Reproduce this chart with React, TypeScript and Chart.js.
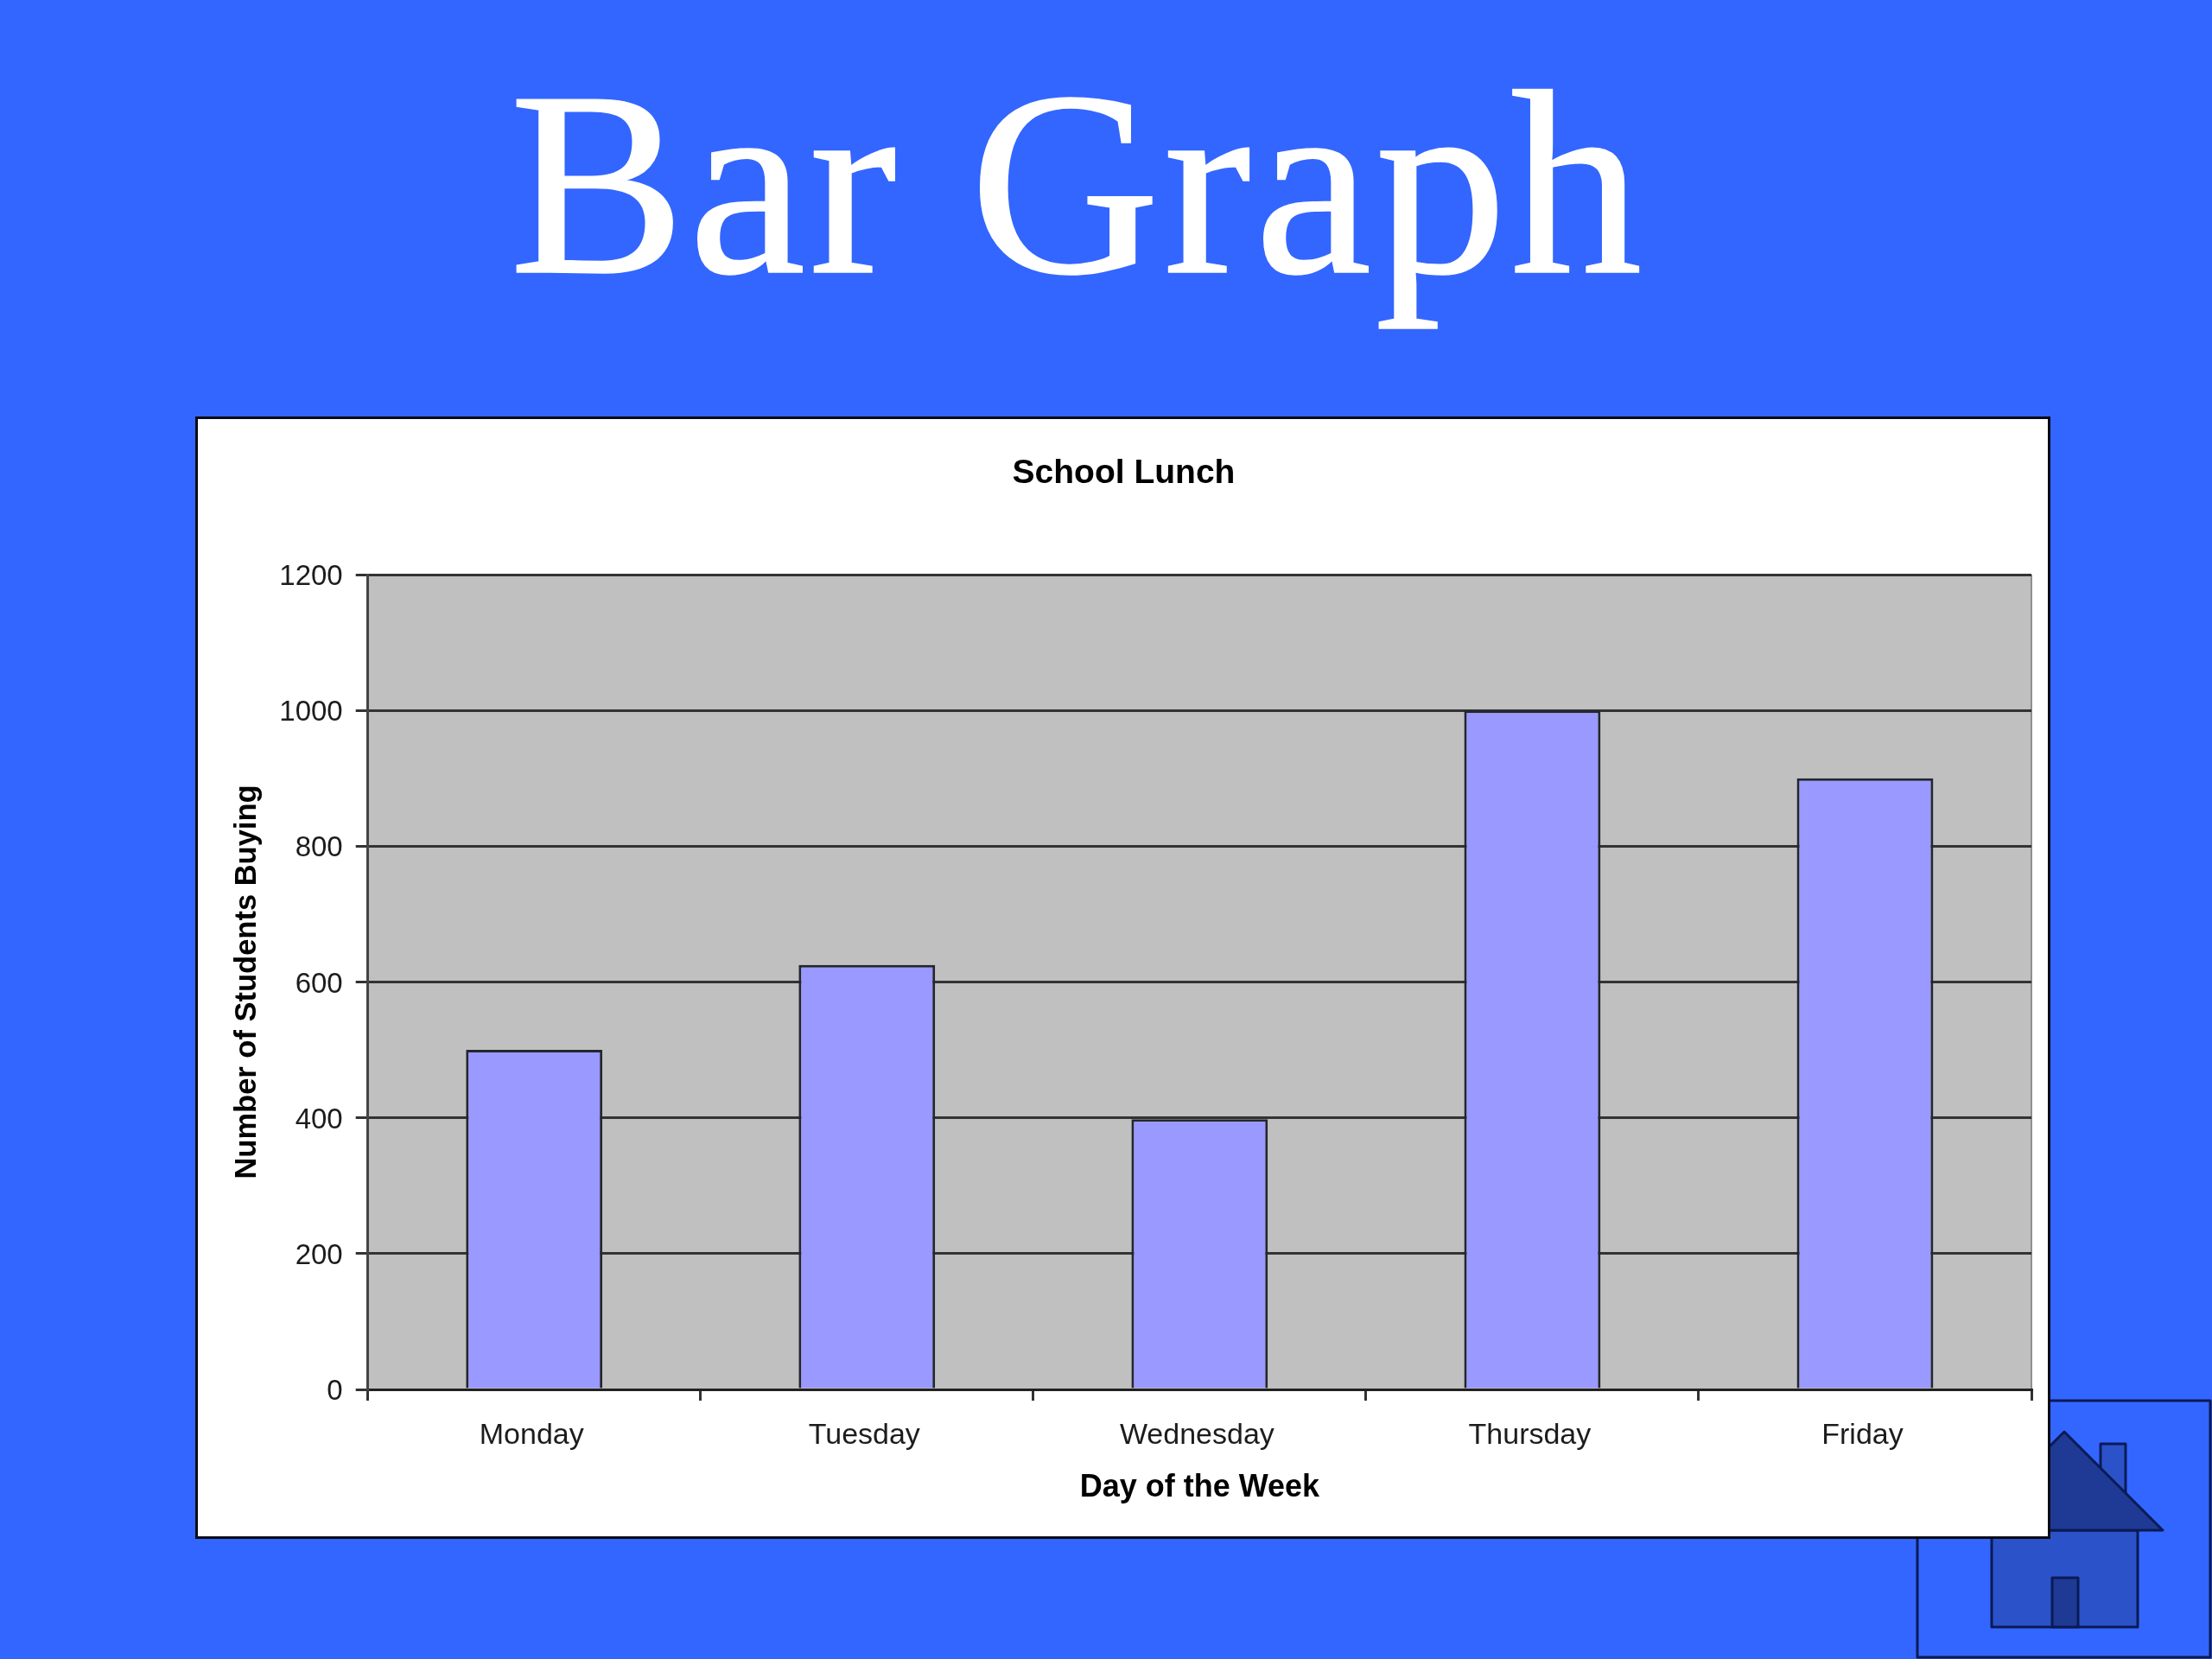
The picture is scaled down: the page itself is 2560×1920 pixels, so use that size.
import React, { useEffect, useRef } from "react";
import { Chart, registerables } from "chart.js";

Chart.register(...registerables);

const pageTitle = "Bar Graph";
const chartTitle = "School Lunch";
const xAxisTitle = "Day of the Week";
const yAxisTitle = "Number of Students Buying";
const days = ["Monday", "Tuesday", "Wednesday", "Thursday", "Friday"];
const studentsBuying = [500, 625, 398, 1000, 900];
const yMin = 0;
const yMax = 1200;
const yStep = 200;

const FONT = "'Liberation Sans', Arial, sans-serif";
const INK = "#1c1c1c";
const LINE = "#333333";

const plotBackground = {
  id: "plotBackground",
  beforeDraw(chart: any) {
    const { ctx, chartArea: a } = chart;
    ctx.save();
    ctx.fillStyle = "#C0C0C0";
    ctx.fillRect(a.left, a.top, a.right - a.left, a.bottom - a.top);
    ctx.strokeStyle = "#8f8f8f";
    ctx.lineWidth = 2;
    ctx.beginPath();
    ctx.moveTo(a.right, a.top);
    ctx.lineTo(a.right, a.bottom);
    ctx.stroke();
    ctx.restore();
  },
};

export default function App() {
  const ref = useRef<HTMLCanvasElement | null>(null);

  useEffect(() => {
    const chart = new Chart(ref.current as HTMLCanvasElement, {
      type: "bar",
      data: {
        labels: days,
        datasets: [
          {
            data: studentsBuying,
            backgroundColor: "#9999FF",
            borderColor: "#23262f",
            borderWidth: 3,
            categoryPercentage: 1,
            barPercentage: 0.41,
          },
        ],
      },
      options: {
        responsive: false,
        animation: false,
        devicePixelRatio: 1,
        layout: { padding: { left: 20, right: 18, top: 0, bottom: 33 } },
        plugins: {
          legend: { display: false },
          tooltip: { enabled: false },
          title: {
            display: true,
            text: chartTitle,
            color: "#000000",
            font: { family: FONT, size: 39, weight: "bold" },
            padding: { top: 38.6, bottom: 93.6 },
          },
        },
        scales: {
          x: {
            afterFit: (s: any) => {
              s.height = 136;
            },
            grid: {
              drawOnChartArea: false,
              drawTicks: true,
              tickLength: 13,
              color: LINE,
              lineWidth: 3,
            },
            border: { display: true, color: "#222222", width: 3 },
            ticks: {
              color: INK,
              padding: 20,
              labelOffset: -3,
              font: { family: FONT, size: 34 },
              maxRotation: 0,
            },
            title: {
              display: true,
              text: xAxisTitle,
              color: "#000000",
              font: { family: FONT, size: 36, weight: "bold" },
              padding: 0,
            },
          },
          y: {
            min: yMin,
            max: yMax,
            afterFit: (s: any) => {
              s.width = 175.7;
            },
            grid: {
              drawTicks: true,
              tickLength: 14,
              color: LINE,
              lineWidth: 3,
            },
            border: { display: true, color: "#444444", width: 3 },
            ticks: {
              stepSize: yStep,
              color: INK,
              padding: 15,
              labelOffset: 3,
              font: { family: FONT, size: 33 },
              callback: (v: any) => String(v),
            },
            title: {
              display: true,
              text: yAxisTitle,
              color: "#000000",
              font: { family: FONT, size: 34.5, weight: "bold" },
              padding: { top: 15.3, bottom: 0 },
            },
          },
        },
      },
      plugins: [plotBackground],
    } as any);
    return () => chart.destroy();
  }, []);

  return (
    <div
      style={{
        position: "absolute",
        left: 0,
        top: 0,
        width: 2560,
        height: 1920,
        overflow: "hidden",
        background: "#3366FF",
      }}
    >
      <div
        style={{
          position: "absolute",
          left: 0,
          width: 2494,
          top: 32,
          textAlign: "center",
          color: "#FFFFFF",
          fontFamily: "'Liberation Serif', 'Times New Roman', serif",
          fontSize: 305,
          letterSpacing: 4,
          WebkitTextStroke: "1.5px #FFFFFF",
          lineHeight: "360px",
          whiteSpace: "nowrap",
        }}
      >
        {pageTitle}
      </div>

      <svg
        width={2560}
        height={1920}
        style={{ position: "absolute", left: 0, top: 0 }}
      >
        <g stroke="#0b1a55" strokeWidth={3} strokeLinejoin="round">
          <rect x={2219} y={1621} width={339} height={297} fill="#3366FF" />
          <rect x={2431} y={1671} width={29} height={60} fill="#2B52C8" />
          <rect x={2305} y={1771} width={169} height={112} fill="#2B52C8" />
          <polygon points="2389,1657 2503,1771 2275,1771" fill="#1F3A94" />
          <rect x={2375} y={1826} width={30} height={57} fill="#1F3A94" />
        </g>
      </svg>

      <div
        style={{
          position: "absolute",
          left: 226,
          top: 482,
          width: 2147,
          height: 1299,
          boxSizing: "border-box",
          border: "3px solid #0a0a14",
          padding: 1,
          background: "#FFFFFF",
        }}
      >
        <canvas
          ref={ref}
          width={2139}
          height={1291}
          style={{ display: "block", width: 2139, height: 1291 }}
        />
      </div>
    </div>
  );
}
